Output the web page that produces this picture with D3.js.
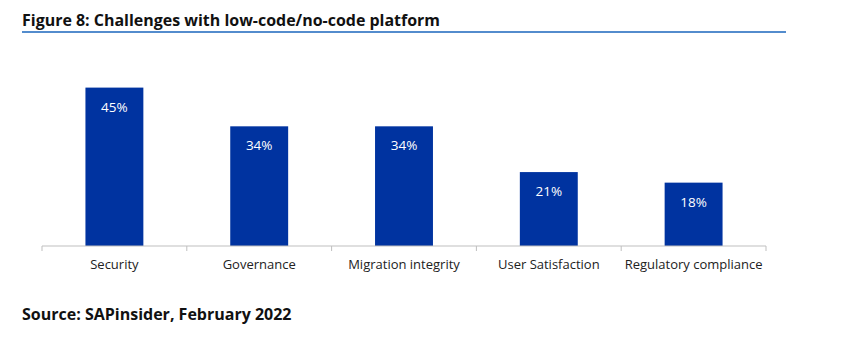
<!DOCTYPE html>
<html><head><meta charset="utf-8">
<script src="https://cdn.jsdelivr.net/npm/d3@7"></script>
<style>body{margin:0;background:#fff}svg{display:block}text{font-family:"Open Sans",sans-serif}</style>
</head><body><svg id="c" width="865" height="356"></svg>
<script>
const categories=["Security","Governance","Migration integrity","User Satisfaction","Regulatory compliance"];
const values=[45,34,34,21,18];
const valueLabels=["45%","34%","34%","21%","18%"];
const title="Figure 8: Challenges with low-code/no-code platform";
const source="Source: SAPinsider, February 2022";

const svg=d3.select("#c");
const x=d3.scaleBand().domain(categories).range([42,766]).paddingInner(0.6).paddingOuter(0.3);
const y=d3.scaleLinear().domain([0,50]).range([246,70]);

svg.append("text").attr("x",22).attr("y",26).attr("font-size",16).attr("font-weight",700)
  .attr("fill","#111").attr("textLength",418).attr("lengthAdjust","spacingAndGlyphs").text(title);
svg.append("line").attr("x1",22).attr("x2",786).attr("y1",32).attr("y2",32).attr("stroke","#1a66bd").attr("stroke-width",1.5);

svg.selectAll("rect.bar").data(values).join("rect").attr("class","bar")
  .attr("x",(d,i)=>x(categories[i])).attr("width",x.bandwidth())
  .attr("y",d=>y(d)).attr("height",d=>y(0)-y(d)).attr("fill","#0033a0");

svg.selectAll("text.val").data(values).join("text").attr("class","val")
  .attr("x",(d,i)=>x(categories[i])+x.bandwidth()/2).attr("y",d=>y(d)+24)
  .attr("text-anchor","middle").attr("font-size",13.5).attr("fill","#fff").text((d,i)=>valueLabels[i]);

const axis=d3.axisBottom(x).tickSize(0).tickPadding(14);
const g=svg.append("g").attr("transform","translate(0,246)").call(axis);
g.select(".domain").attr("stroke","#bfbfbf").attr("d","M42,0H766");
g.selectAll("text").attr("font-size",13).attr("fill","#222").attr("font-family","Open Sans");
const bounds=d3.range(categories.length+1).map(i=>42+i*x.step());
g.selectAll("line.tk").data(bounds).join("line").attr("class","tk")
  .attr("x1",d=>d).attr("x2",d=>d).attr("y1",0).attr("y2",5).attr("stroke","#bfbfbf");

svg.append("text").attr("x",22).attr("y",320).attr("font-size",16).attr("font-weight",700)
  .attr("fill","#111").text(source);
</script></body></html>
